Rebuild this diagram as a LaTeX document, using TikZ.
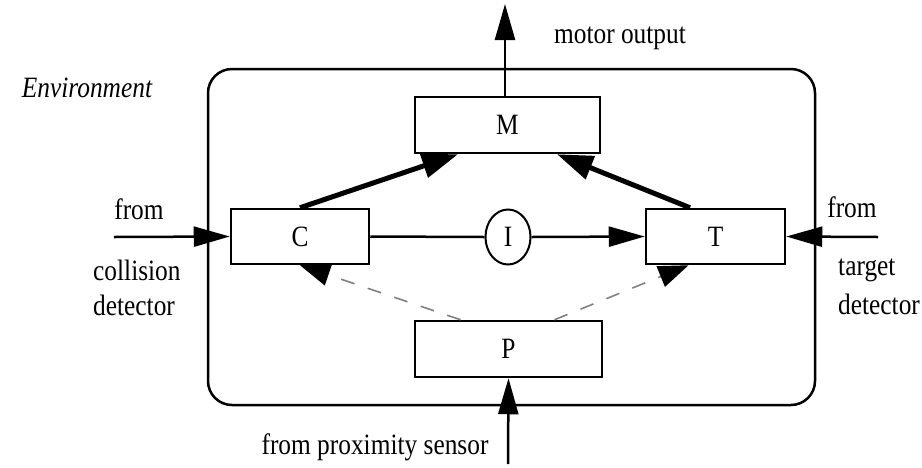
\documentclass[tikz,border=0pt]{standalone}
\usepackage{fontspec}
\setmainfont{Liberation Serif}[FakeStretch=0.86]
\usetikzlibrary{arrows.meta,shapes.geometric}
\begin{document}
\begin{tikzpicture}[x=1pt,y=-1pt,
  every node/.style={font=\fontsize{29.5}{34}\selectfont, inner sep=0pt},
  blk/.style={draw, line width=2.5pt, rectangle, minimum height=55pt},
  conn/.style={line width=2.5pt, -{Triangle[length=36pt,width=20pt]}},
  thick conn/.style={line width=5pt, -{Triangle[length=36pt,width=24pt]}},
  dash conn/.style={line width=1.6pt, draw=black!50, dash pattern=on 14pt off 14pt, -{Triangle[length=30pt,width=22pt,fill=black,color=black]}},
  plain/.style={line width=2.5pt},
  lbl/.style={anchor=center}
]
\useasboundingbox (0,0) rectangle (922,467);
% environment frame
\node[draw, line width=2.5pt, rounded corners=24pt, minimum width=607pt, minimum height=336pt] (env) at (511.5,237) {};
% blocks
\node[blk, minimum width=185pt, minimum height=56pt] (M) at (507.5,125) {M};
\node[blk, minimum width=138pt] (C) at (300,236.5) {C};
\node[blk, minimum width=139pt] (T) at (715.5,236.5) {T};
\node[blk, minimum width=187pt, minimum height=56pt] (P) at (508.5,349) {P};
\node[draw, ellipse, line width=2pt, minimum width=45pt, minimum height=55pt] (I) at (508,237) {I};
% free ends
\coordinate (cl) at (114,237);
\coordinate (cr) at (878,237);
\coordinate (mo) at (505,4);
\coordinate (ps) at (508,464);
% connectors
\draw[conn] (cl) -- (C.west);
\draw[conn] (cr) -- (T.east);
\draw[plain] (C.east) -- (I.west);
\draw[conn] (I.east) -- (T.west);
\draw[conn] ([xshift=-2.5pt]M.north) -- (mo);
\draw[conn] (ps) -- (P.south);
\draw[thick conn] (C.north) -- ([xshift=-49.5pt]M.south);
\draw[thick conn] ([xshift=-25.5pt]T.north) -- ([xshift=49.5pt]M.south);
\draw[dash conn] ([xshift=-48pt]P.north) -- (C.south);
\draw[dash conn] ([xshift=46pt]P.north) -- ([xshift=-27pt]T.south);
% labels
\node[lbl] (lmo) at (620,38) {motor output};
\node[lbl, font=\fontsize{29.5}{34}\selectfont\itshape] (lenv) at (87,88) {Environment};
\node[lbl] (lfl) at (139,209) {from};
\node[anchor=west] (lcol) at (93,270) {collision};
\node[anchor=west] (lcd) at (93,305) {detector};
\node[lbl] (lfr) at (852,207) {from};
\node[anchor=west] (ltg) at (838,270) {target};
\node[anchor=west] (ltd) at (838,304) {detector};
\node[lbl] (lps) at (375,447) {from proximity sensor};
\end{tikzpicture}
\end{document}
